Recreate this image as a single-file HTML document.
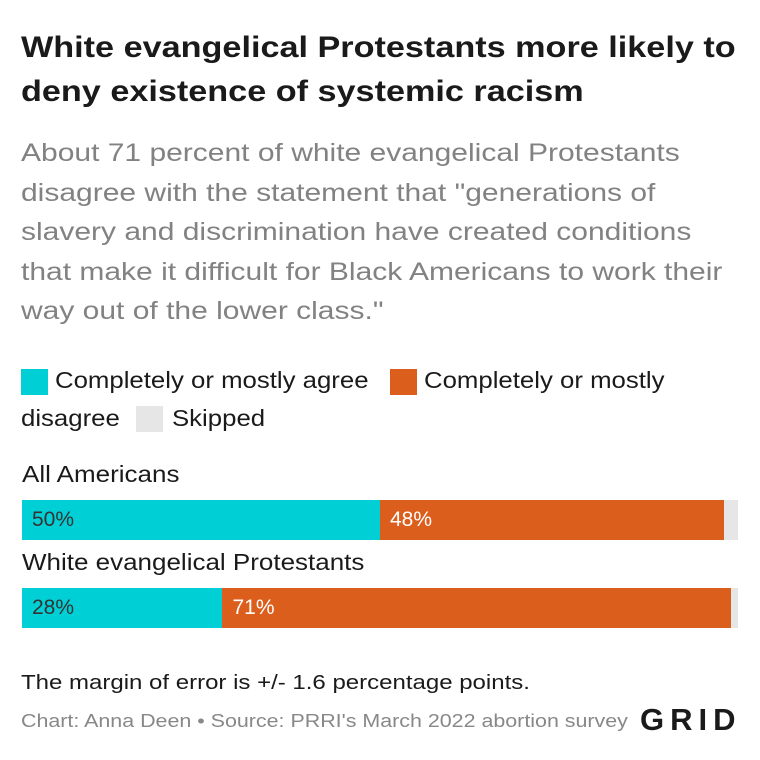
<!DOCTYPE html>
<html><head><meta charset="utf-8"><style>
body{margin:0;width:760px;height:760px;background:#fff;font-family:"Liberation Sans",sans-serif;position:relative;overflow:hidden}
.a{position:absolute;white-space:nowrap;transform-origin:0 0}
</style></head><body>
<div class="a" style="left:21px;top:26px;font-size:30px;font-weight:bold;line-height:44px;color:#1a1a1a;transform:scaleX(1.14)">White evangelical Protestants more likely to<br>deny existence of systemic racism</div>
<div class="a" style="left:21px;top:134px;font-size:25px;line-height:39.5px;color:#828282;transform:scaleX(1.2)">About 71 percent of white evangelical Protestants<br>disagree with the statement that "generations of<br>slavery and discrimination have created conditions<br>that make it difficult for Black Americans to work their<br>way out of the lower class."</div>
<div>
<div class="a" style="left:21px;top:369px;width:27px;height:26px;background:#00d0d6"></div>
<div class="a" style="left:55px;top:367px;font-size:23px;color:#1a1a1a;transform:scaleX(1.12)">Completely or mostly agree</div>
<div class="a" style="left:390px;top:369px;width:27px;height:26px;background:#dc5e1c"></div>
<div class="a" style="left:424px;top:367px;font-size:23px;color:#1a1a1a;transform:scaleX(1.12)">Completely or mostly</div>
<div class="a" style="left:21px;top:405px;font-size:23px;color:#1a1a1a;transform:scaleX(1.12)">disagree</div>
<div class="a" style="left:136px;top:406px;width:27px;height:26px;background:#e6e6e6"></div>
<div class="a" style="left:172px;top:405px;font-size:23px;color:#1a1a1a;transform:scaleX(1.12)">Skipped</div>
</div>
<div id="bars"></div>
<div class="a" style="left:21px;top:672px;font-size:20px;color:#1a1a1a;transform:scaleX(1.2)">The margin of error is +/- 1.6 percentage points.</div>
<div class="a" style="left:21px;top:711px;font-size:18px;color:#888;transform:scaleX(1.19)">Chart: Anna Deen • Source: PRRI's March 2022 abortion survey</div>
<div class="a" style="left:640px;top:702px;font-size:31px;font-weight:bold;letter-spacing:6px;color:#1a1a1a">GRID</div>
<script>
const categories=["All Americans","White evangelical Protestants"];
const agree=[50,28];
const disagree=[48,71];
const skipped=[2,1];
const colors=["#00d0d6","#dc5e1c","#e6e6e6"];
const X0=22,W=716;
function xs(v){return v/100*W;}
const root=document.getElementById('bars');
categories.forEach((c,i)=>{
  const top=500+i*88;
  const lab=document.createElement('div');
  lab.className='a';
  
  
  lab.style.cssText=`left:22px;top:${top-39}px;font-size:23px;color:#1a1a1a;transform:scaleX(1.13)`;
  lab.textContent=c;root.appendChild(lab);
  const vals=[agree[i],disagree[i],skipped[i]];
  let x=X0;
  vals.forEach((v,j)=>{
    const b=document.createElement('div');
    b.className='a';
    
    
    const w=j==2?(X0+W-x):xs(v);
    b.style.cssText=`left:${x}px;top:${top}px;width:${w}px;height:40px;background:${colors[j]}`;
    if(j<2){b.style.fontSize='21px';b.style.lineHeight='40px';
      const t=document.createElement('span');t.style.cssText=`margin-left:10px;color:${j==0?'#333':'#fff'}`;t.textContent=v+'%';b.appendChild(t);}
    root.appendChild(b);x+=w;
  });
});
</script>
</body></html>
